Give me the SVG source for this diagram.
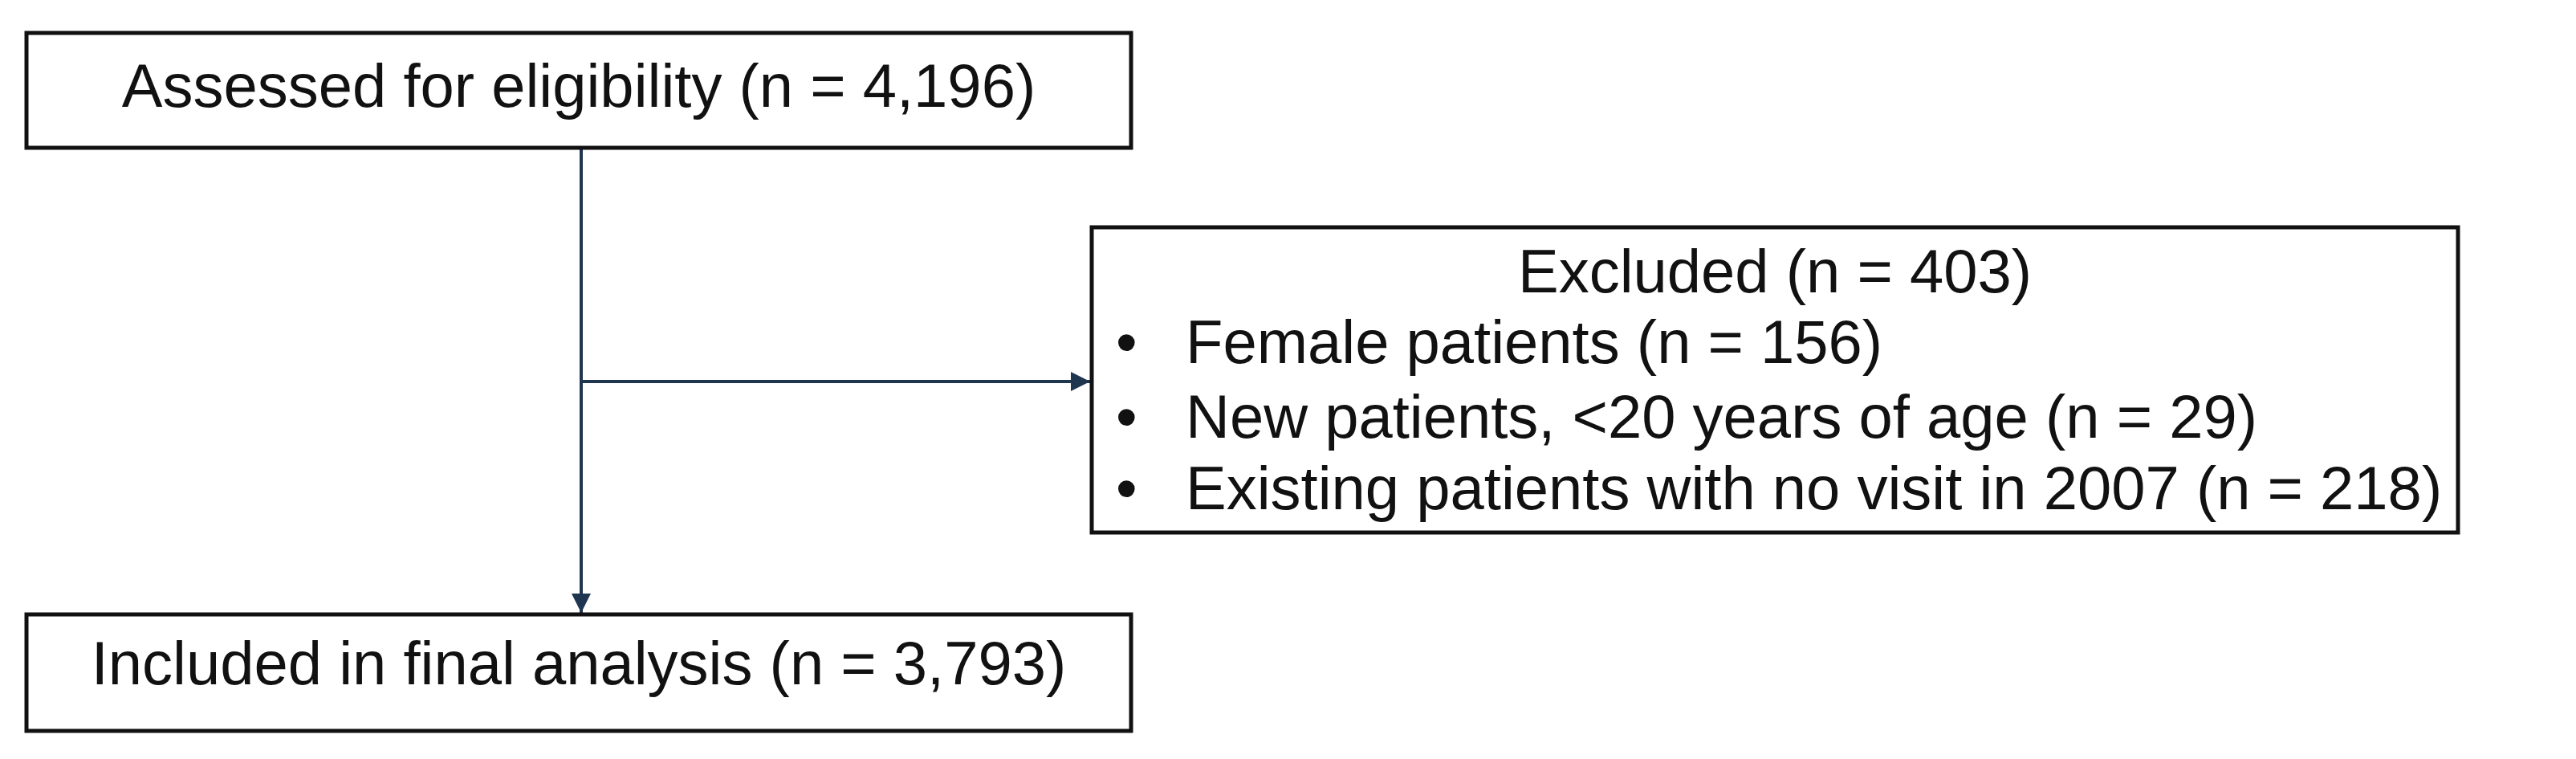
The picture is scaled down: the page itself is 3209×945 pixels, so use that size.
<svg xmlns="http://www.w3.org/2000/svg" width="3209" height="945" viewBox="0 0 3209 945">
<style>
.box{fill:#fff;stroke:#111;stroke-width:5}
.t{font-family:"Liberation Sans",Arial,sans-serif;font-size:76px;fill:#111}
.c{fill:none;stroke:#1f3550;stroke-width:4}
</style>
<defs>
<marker id="a" viewBox="0 0 10 10" refX="10" refY="5" markerWidth="24" markerHeight="24" markerUnits="userSpaceOnUse" orient="auto"><path d="M0,0 L10,5 L0,10 Z" fill="#1f3550"/></marker></defs>
<rect width="3209" height="945" fill="#fff"/>
<g id="connectors">
<path class="c" d="M724,184 V763" marker-end="url(#a)"/>
<path class="c" d="M724,475 H1358" marker-end="url(#a)"/>
</g>
<g id="assessed"><rect class="box" x="33" y="41" width="1376" height="143"/><text class="t" x="721" y="133" text-anchor="middle">Assessed for eligibility (n = 4,196)</text></g>
<g id="excluded"><rect class="box" x="1360" y="283" width="1702" height="380"/>
<text class="t" x="2211" y="364" text-anchor="middle">Excluded (n = 403)</text>
<text class="t" x="1390" y="452">•</text><text class="t" x="1477" y="452">Female patients (n = 156)</text>
<text class="t" x="1390" y="545">•</text><text class="t" x="1477" y="545">New patients, &lt;20 years of age (n = 29)</text>
<text class="t" x="1390" y="634">•</text><text class="t" x="1477" y="634">Existing patients with no visit in 2007 (n = 218)</text>
</g>
<g id="included"><rect class="box" x="33" y="765" width="1376" height="145"/><text class="t" x="721" y="852" text-anchor="middle">Included in final analysis (n = 3,793)</text></g>
</svg>
